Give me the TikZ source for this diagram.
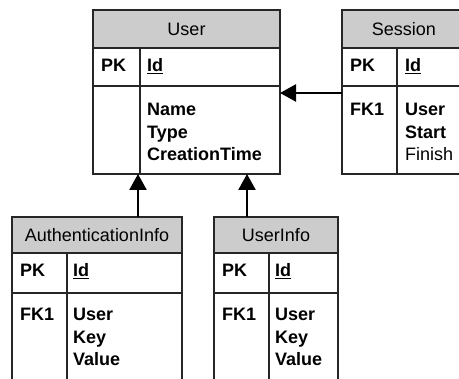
\documentclass[tikz,border=0pt]{standalone}
\usepackage{fontspec}
\setmainfont{Liberation Sans}
\usetikzlibrary{positioning,arrows.meta}

\begin{document}
\begin{tikzpicture}[x=1pt, y=-1pt,
    box/.style={draw=black!85, line width=1.2pt, anchor=north west, inner sep=0pt, outer sep=0pt},
    head/.style={box, fill=gray!40, font=\fontsize{18}{22}\selectfont},
    txt/.style={anchor=base west, inner sep=0pt, font=\bfseries\fontsize{18}{22}\selectfont},
    fk/.style={-{Triangle[length=16pt, width=17pt]}, line width=2.4pt}]
    \useasboundingbox (0,0) rectangle (459,379);
    \clip (0,0) rectangle (459,379);

    % User
    \node[head, minimum width=187pt, minimum height=38pt] (user) at (93,10) {User};
    \node[box, minimum width=47pt, minimum height=38pt] (user-pk) at (user.south west) {};
    \node[box, minimum width=140pt, minimum height=38pt] (user-id) at (user-pk.north east) {};
    \node[box, minimum width=47pt, minimum height=88pt] (user-fk) at (user-pk.south west) {};
    \node[box, minimum width=140pt, minimum height=88pt] (user-col) at (user-fk.north east) {};
    \node[txt] (user-pkt) at (101,72) {PK};
    \node[txt] (user-idt) at (147,72) {\underline{Id}};
    \foreach \f [count=\i from 0] in {Name,Type,CreationTime}
        \node[txt] (user-f\i) at (147,116+22.5*\i) {\f};

    % Session
    \node[head, minimum width=124pt, minimum height=38pt] (session) at (342,10) {Session};
    \node[box, minimum width=55pt, minimum height=38pt] (session-pk) at (session.south west) {};
    \node[box, minimum width=69pt, minimum height=38pt] (session-id) at (session-pk.north east) {};
    \node[box, minimum width=55pt, minimum height=88pt] (session-fk) at (session-pk.south west) {};
    \node[box, minimum width=69pt, minimum height=88pt] (session-col) at (session-fk.north east) {};
    \node[txt] (session-pkt) at (350,72) {PK};
    \node[txt] (session-idt) at (405,72) {\underline{Id}};
    \node[txt] (session-fkt) at (350,116) {FK1};
    \foreach \f [count=\i from 0] in {User,Start,{\mdseries Finish}}
        \node[txt] (session-f\i) at (405,116+22.5*\i) {\f};

    % AuthenticationInfo
    \node[head, minimum width=170pt, minimum height=36pt] (auth) at (12,217) {AuthenticationInfo};
    \node[box, minimum width=55pt, minimum height=40pt] (auth-pk) at (auth.south west) {};
    \node[box, minimum width=115pt, minimum height=40pt] (auth-id) at (auth-pk.north east) {};
    \node[box, minimum width=55pt, minimum height=120pt] (auth-fk) at (auth-pk.south west) {};
    \node[box, minimum width=115pt, minimum height=120pt] (auth-col) at (auth-fk.north east) {};
    \node[txt] (auth-pkt) at (20,277) {PK};
    \node[txt] (auth-idt) at (73,277) {\underline{Id}};
    \node[txt] (auth-fkt) at (20,321) {FK1};
    \foreach \f [count=\i from 0] in {User,Key,Value}
        \node[txt] (auth-f\i) at (73,321+22.5*\i) {\f};

    % UserInfo
    \node[head, minimum width=124pt, minimum height=36pt] (info) at (214,217) {UserInfo};
    \node[box, minimum width=55pt, minimum height=40pt] (info-pk) at (info.south west) {};
    \node[box, minimum width=69pt, minimum height=40pt] (info-id) at (info-pk.north east) {};
    \node[box, minimum width=55pt, minimum height=120pt] (info-fk) at (info-pk.south west) {};
    \node[box, minimum width=69pt, minimum height=120pt] (info-col) at (info-fk.north east) {};
    \node[txt] (info-pkt) at (222,277) {PK};
    \node[txt] (info-idt) at (275,277) {\underline{Id}};
    \node[txt] (info-fkt) at (222,321) {FK1};
    \foreach \f [count=\i from 0] in {User,Key,Value}
        \node[txt] (info-f\i) at (275,321+22.5*\i) {\f};

    % foreign keys
    \coordinate (auth-ref) at ([xshift=-2pt]user-fk.south east);
    \coordinate (info-ref) at ([xshift=-33pt]user-col.south east);
    \draw[fk] ([yshift=-7pt]session-fk.north west) -- ([yshift=-7pt]user-col.north east);
    \draw[fk] (auth.north -| auth-ref) -- (auth-ref);
    \draw[fk] (info.north -| info-ref) -- (info-ref);

\end{tikzpicture}
\end{document}
